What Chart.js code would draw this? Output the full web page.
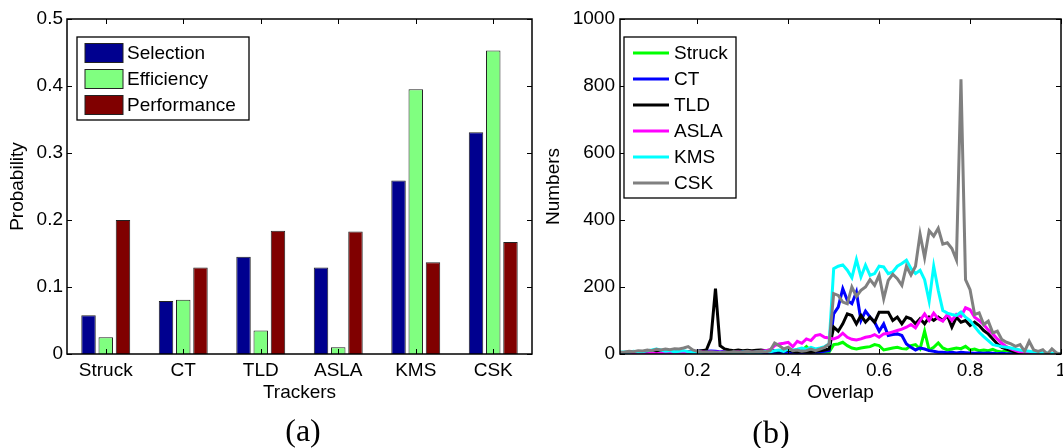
<!DOCTYPE html>
<html>
<head>
<meta charset="utf-8">
<script src="https://cdn.jsdelivr.net/npm/chart.js@4.4.1/dist/chart.umd.min.js"></script>
<style>
  html, body { margin: 0; padding: 0; background: #fff; overflow: hidden; }
  body { width: 1063px; height: 448px; position: relative; }
  canvas { position: absolute; top: 0; }
  #barCanvas { left: 0; }
  #lineCanvas { left: 540px; }
  .cap { position: absolute; font-family: "Liberation Serif", serif; font-size: 32px; line-height: 1; transform: translate(-50%, -50%); color: #000; }
</style>
</head>
<body>
<canvas id="barCanvas" width="545" height="448"></canvas>
<canvas id="lineCanvas" width="540" height="448"></canvas>
<div class="cap" style="left:303px; top:430px">(a)</div>
<div class="cap" style="left:771px; top:432px">(b)</div>
<script>
// (a) probability per tracker
const trackers = ['Struck', 'CT', 'TLD', 'ASLA', 'KMS', 'CSK'];
const selection = [0.058, 0.079, 0.145, 0.129, 0.259, 0.331];
const efficiency = [0.025, 0.081, 0.035, 0.010, 0.395, 0.453];
const performance = [0.200, 0.129, 0.184, 0.183, 0.137, 0.167];
const probTicks = [0, 0.1, 0.2, 0.3, 0.4, 0.5];

// (b) overlap histogram
const overlap = [
  0.03, 0.04, 0.05, 0.06, 0.07, 0.08, 0.09, 0.10, 0.11, 0.12,
  0.13, 0.14, 0.15, 0.16, 0.17, 0.18, 0.19, 0.20, 0.21, 0.22,
  0.23, 0.24, 0.25, 0.26, 0.27, 0.28, 0.29, 0.30, 0.31, 0.32,
  0.33, 0.34, 0.35, 0.36, 0.37, 0.38, 0.39, 0.40, 0.41, 0.42,
  0.43, 0.44, 0.45, 0.46, 0.47, 0.48, 0.49, 0.50, 0.51, 0.52,
  0.53, 0.54, 0.55, 0.56, 0.57, 0.58, 0.59, 0.60, 0.61, 0.62,
  0.63, 0.64, 0.65, 0.66, 0.67, 0.68, 0.69, 0.70, 0.71, 0.72,
  0.73, 0.74, 0.75, 0.76, 0.77, 0.78, 0.79, 0.80, 0.81, 0.82,
  0.83, 0.84, 0.85, 0.86, 0.87, 0.88, 0.89, 0.90, 0.91, 0.92,
  0.93, 0.94, 0.95, 0.96, 0.97, 0.98, 0.99, 1.00
];
const struck = [
  0, 0, 1, 0, 1, 2, 1, 0, 1, 2,
  1, 2, 1, 0, 1, 2, 1, 3, 2, 2,
  3, 2, 3, 2, 1, 2, 3, 2, 3, 2,
  3, 4, 3, 5, 4, 6, 3, 5, 8, 6,
  10, 22, 8, 6, 5, 6, 6, 28, 30, 35,
  25, 18, 15, 18, 20, 22, 28, 25, 12, 15,
  18, 20, 16, 15, 25, 28, 15, 68, 12, 20,
  33, 18, 12, 15, 18, 16, 23, 12, 15, 10,
  12, 10, 14, 8, 6, 10, 5, 6, 3, 2,
  2, 1, 1, 1, 0, 0, 0, 0
];
const ct = [
  2, 3, 3, 4, 3, 4, 5, 4, 5, 6,
  5, 6, 5, 6, 7, 6, 7, 8, 9, 8,
  9, 8, 7, 8, 6, 7, 5, 6, 5, 4,
  5, 4, 5, 4, 3, 4, 5, 4, 3, 5,
  4, 5, 6, 5, 6, 8, 10, 120, 140, 195,
  160, 150, 185, 100, 128, 110, 95, 68, 90, 55,
  58, 60, 55, 30, 20, 12, 18, 15, 10, 8,
  5, 5, 4, 5, 3, 5, 4, 3, 2, 3,
  2, 3, 2, 1, 2, 1, 1, 0, 1, 0,
  0, 0, 0, 0, 0, 0, 0, 0
];
const tld = [
  3, 4, 3, 5, 4, 5, 4, 3, 5, 4,
  5, 4, 5, 6, 5, 6, 5, 8, 10, 12,
  45, 195, 25, 15, 12, 10, 12, 10, 11, 10,
  11, 12, 10, 12, 9, 8, 10, 12, 8, 6,
  8, 6, 5, 8, 10, 12, 15, 80, 68, 90,
  120, 115, 90, 115, 95, 110, 95, 125, 125, 125,
  100, 110, 90, 110, 105, 90, 105, 90, 110, 100,
  110, 100, 115, 80, 110, 95, 100, 85, 95, 85,
  70, 60, 45, 30, 20, 15, 10, 5, 3, 2,
  1, 1, 0, 0, 0, 0, 0, 0
];
const asla = [
  1, 2, 1, 2, 1, 0, 1, 2, 1, 2,
  3, 2, 3, 4, 3, 5, 6, 5, 6, 5,
  6, 5, 6, 5, 4, 5, 6, 5, 6, 5,
  6, 8, 10, 12, 25, 30, 32, 35, 22, 38,
  32, 45, 40, 55, 58, 50, 48, 45, 50, 62,
  50, 44, 42, 45, 50, 52, 58, 50, 60, 62,
  66, 70, 74, 80, 88, 78, 100, 120, 100, 122,
  105, 98, 118, 100, 118, 112, 138, 132, 110, 100,
  88, 72, 60, 45, 32, 22, 15, 10, 6, 4,
  3, 2, 1, 0, 0, 0, 0, 0
];
const kms = [
  5, 6, 5, 8, 6, 7, 10, 12, 15, 12,
  8, 10, 6, 8, 10, 7, 5, 6, 4, 5,
  4, 3, 5, 4, 3, 5, 4, 6, 5, 4,
  6, 5, 8, 6, 10, 12, 8, 15, 12, 14,
  18, 14, 20, 15, 18, 22, 30, 255, 262, 266,
  250, 228, 282, 230, 265, 235, 240, 262, 260, 240,
  245, 262, 270, 280, 255, 240, 250, 222, 158, 262,
  190, 130, 122, 118, 115, 125, 110, 100, 82, 65,
  52, 40, 28, 25, 22, 20, 18, 15, 12, 10,
  8, 6, 5, 4, 3, 2, 2, 1
];
const csk = [
  5, 6, 8, 7, 10, 9, 12, 10, 14, 12,
  15, 13, 16, 15, 18, 22, 12, 8, 6, 5,
  6, 5, 4, 6, 5, 7, 6, 5, 8, 6,
  7, 8, 6, 10, 33, 25, 15, 20, 10, 12,
  8, 10, 15, 10, 15, 20, 30, 180, 175, 155,
  150, 200, 172, 190, 200, 222, 205, 235, 165, 220,
  238, 225, 205, 262, 236, 262, 358, 288, 368, 352,
  375, 328, 332, 315, 281, 820, 222, 192, 118, 123,
  88, 98, 63, 68, 43, 35, 30, 23, 28, 8,
  38, 12, 8, 13, 0, 15, 3, 0
];
const overlapTicks = [0.2, 0.4, 0.6, 0.8, 1];
const numberTicks = [0, 200, 400, 600, 800, 1000];

const FONT = { family: '"Liberation Sans", Arial, sans-serif', size: 19 };

// MATLAB-like box with inward ticks on all four sides
const boxTicks = {
  id: 'boxTicks',
  afterDatasetsDraw(chart) {
    const { ctx, chartArea: a, scales: { x, y } } = chart;
    const len = 5;
    ctx.save();
    ctx.strokeStyle = '#000';
    ctx.lineWidth = 1;
    ctx.beginPath();
    x.ticks.forEach((t, i) => {
      const px = Math.round(x.getPixelForTick(i)) + 0.5;
      ctx.moveTo(px, a.top); ctx.lineTo(px, a.top + len);
      ctx.moveTo(px, a.bottom); ctx.lineTo(px, a.bottom - len);
    });
    y.ticks.forEach((t, i) => {
      const py = Math.round(y.getPixelForTick(i)) + 0.5;
      ctx.moveTo(a.left, py); ctx.lineTo(a.left + len, py);
      ctx.moveTo(a.right, py); ctx.lineTo(a.right - len, py);
    });
    ctx.stroke();
    ctx.lineWidth = 1.5;
    ctx.strokeRect(a.left, a.top, a.right - a.left, a.bottom - a.top);
    ctx.restore();
  }
};

// legend in a framed box inside the axes
const boxLegend = {
  id: 'boxLegend',
  afterDraw(chart, args, o) {
    const ctx = chart.ctx;
    ctx.save();
    ctx.fillStyle = '#fff';
    ctx.fillRect(o.left, o.top, o.width, o.height);
    ctx.strokeStyle = '#000';
    ctx.lineWidth = 1.3;
    ctx.strokeRect(o.left, o.top, o.width, o.height);
    ctx.font = `${FONT.size}px ${FONT.family}`;
    ctx.textBaseline = 'middle';
    chart.data.datasets.forEach((ds, i) => {
      const cy = o.firstRow + i * o.rowGap;
      if (o.kind === 'patch') {
        ctx.fillStyle = ds.backgroundColor;
        ctx.fillRect(o.keyX, cy - o.keyH / 2, o.keyW, o.keyH);
        ctx.lineWidth = 1;
        ctx.strokeStyle = '#222';
        ctx.strokeRect(o.keyX, cy - o.keyH / 2, o.keyW, o.keyH);
      } else {
        ctx.strokeStyle = ds.borderColor;
        ctx.lineWidth = ds.borderWidth;
        ctx.beginPath();
        ctx.moveTo(o.keyX, cy);
        ctx.lineTo(o.keyX + o.keyW, cy);
        ctx.stroke();
      }
      ctx.fillStyle = '#000';
      ctx.fillText(ds.label, o.textX, cy + 1);
    });
    ctx.restore();
  }
};

Chart.defaults.font.family = FONT.family;
Chart.defaults.font.size = FONT.size;
Chart.defaults.color = '#000';

function fixedTicks(values) {
  return (scale) => { scale.ticks = values.map((v) => ({ value: v })); };
}
const plain = (v) => String(v);

const barSets = [
  { label: 'Selection', data: selection, backgroundColor: '#00008f' },
  { label: 'Efficiency', data: efficiency, backgroundColor: '#80ff80' },
  { label: 'Performance', data: performance, backgroundColor: '#800000' },
].map((d) => ({ ...d, borderColor: '#222', borderWidth: 1, categoryPercentage: 0.667, barPercentage: 0.84 }));

new Chart(document.getElementById('barCanvas'), {
  type: 'bar',
  data: { labels: trackers, datasets: barSets },
  options: {
    responsive: false,
    animation: false,
    layout: { padding: { top: 19, right: 13, bottom: 44, left: 0 } },
    plugins: {
      legend: { display: false },
      tooltip: { enabled: false },
      boxLegend: { kind: 'patch', left: 77, top: 37, width: 172, height: 83, firstRow: 53, rowGap: 26, keyX: 85, keyW: 38, keyH: 19, textX: 127 },
    },
    scales: {
      x: {
        grid: { display: false, drawTicks: false },
        border: { display: false },
        ticks: { padding: 5, font: FONT },
        title: { display: true, text: 'Trackers', font: FONT, padding: { top: 0, bottom: 0 } },
        afterFit: (s) => { s.height = 50; },
      },
      y: {
        min: 0, max: 0.5,
        grid: { display: false, drawTicks: false },
        border: { display: false },
        ticks: { padding: 4, font: FONT, callback: plain },
        afterBuildTicks: fixedTicks(probTicks),
        title: { display: true, text: 'Probability', font: FONT, padding: { top: 6.6, bottom: 0 } },
        afterFit: (s) => { s.width = 67; },
      },
    },
  },
  plugins: [boxTicks, boxLegend],
});

const lineSets = [
  { label: 'Struck', data: struck, borderColor: '#00ff00', order: 5 },
  { label: 'CT', data: ct, borderColor: '#0000ff', order: 4 },
  { label: 'TLD', data: tld, borderColor: '#000000', order: 3 },
  { label: 'ASLA', data: asla, borderColor: '#ff00ff', order: 2 },
  { label: 'KMS', data: kms, borderColor: '#00ffff', order: 1 },
  { label: 'CSK', data: csk, borderColor: '#808080', order: 0 },
].map((d) => ({
  ...d,
  data: d.data.map((v, i) => ({ x: overlap[i], y: v })),
  borderWidth: 3,
  pointRadius: 0,
  tension: 0,
  fill: false,
}));

new Chart(document.getElementById('lineCanvas'), {
  type: 'line',
  data: { datasets: lineSets },
  options: {
    responsive: false,
    animation: false,
    layout: { padding: { top: 19, right: 19, bottom: 44, left: 0 } },
    plugins: {
      legend: { display: false },
      tooltip: { enabled: false },
      boxLegend: { kind: 'line', left: 84, top: 37, width: 112, height: 161, firstRow: 53, rowGap: 26, keyX: 93, keyW: 36, keyH: 0, textX: 134 },
    },
    scales: {
      x: {
        type: 'linear', min: 0.03, max: 1,
        grid: { display: false, drawTicks: false },
        border: { display: false },
        ticks: { padding: 5, font: FONT, callback: plain },
        afterBuildTicks: fixedTicks(overlapTicks),
        title: { display: true, text: 'Overlap', font: FONT, padding: { top: 0, bottom: 0 } },
        afterFit: (s) => { s.height = 50; },
      },
      y: {
        min: 0, max: 1000,
        grid: { display: false, drawTicks: false },
        border: { display: false },
        ticks: { padding: 5, font: FONT, callback: plain },
        afterBuildTicks: fixedTicks(numberTicks),
        title: { display: true, text: 'Numbers', font: FONT, padding: { top: 2.6, bottom: 0 } },
        afterFit: (s) => { s.width = 80; },
      },
    },
  },
  plugins: [boxTicks, boxLegend],
});
</script>
</body>
</html>
